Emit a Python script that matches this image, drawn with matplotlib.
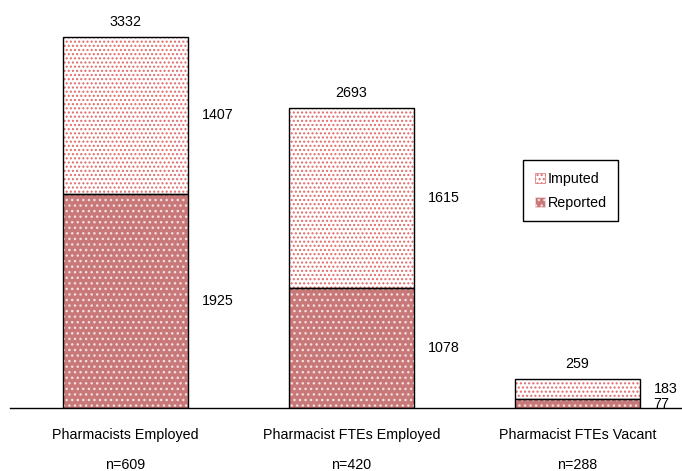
import numpy as np
import matplotlib.pyplot as plt
from matplotlib.patches import Patch

plt.rcParams["font.family"] = ["Liberation Sans", "DejaVu Sans"]
plt.rcParams["hatch.linewidth"] = 1.0

# ── Data ──────────────────────────────────────────────────────────────────────
CATEGORIES = ["Pharmacists Employed", "Pharmacist FTEs Employed", "Pharmacist FTEs Vacant"]
N_LABELS   = ["n=609", "n=420", "n=288"]
REPORTED   = [1925, 1078, 77]
IMPUTED    = [1407, 1615, 183]
TOTALS     = [3332, 2693, 259]

REP_COLOR  = "#c87878"
DOT_RED    = "#e06a6a"
FS = 10.3

fig = plt.figure(figsize=(6.82, 4.71), dpi=100)
ax = fig.add_axes([10 / 682, 63 / 471, 672 / 682, 408 / 471])

x = np.arange(len(CATEGORIES))
width = 0.553
rep = np.array(REPORTED)
imp = np.array(IMPUTED)

# reported: pink fill with white dots
ax.bar(x, rep, width, color=REP_COLOR, edgecolor="#f4dede", hatch="...", linewidth=0)
# imputed: white fill with red dots
ax.bar(x, imp, width, bottom=rep, color="white", edgecolor=DOT_RED, hatch="....", linewidth=0)
# black outlines
ax.bar(x, rep, width, fill=False, edgecolor="black", linewidth=1.0)
ax.bar(x, imp, width, bottom=rep, fill=False, edgecolor="black", linewidth=1.0)

# value labels
for i in range(len(x)):
    ax.annotate(f"{TOTALS[i]}", (x[i], TOTALS[i]), xytext=(0, 6),
                textcoords="offset points", ha="center", va="bottom", fontsize=FS)
    ax.text(x[i] + width / 2 + 0.06, rep[i] / 2, f"{REPORTED[i]}",
            ha="left", va="center", fontsize=FS)
    ax.text(x[i] + width / 2 + 0.06, rep[i] + imp[i] / 2, f"{IMPUTED[i]}",
            ha="left", va="center", fontsize=FS)
    ax.text(x[i], -0.066, CATEGORIES[i], transform=ax.get_xaxis_transform(),
            ha="center", va="center", fontsize=FS)
    ax.text(x[i], -0.14, N_LABELS[i], transform=ax.get_xaxis_transform(),
            ha="center", va="center", fontsize=FS)

ax.set_xlim(-0.511, 2.462)
ax.set_ylim(0, 3665)
for s in ["top", "right", "left"]:
    ax.spines[s].set_visible(False)
ax.spines["bottom"].set_linewidth(1.0)
ax.set_xticks([])
ax.set_yticks([])

handles = [
    Patch(facecolor="white", edgecolor=DOT_RED, hatch="....", linewidth=0.5, label="Imputed"),
    Patch(facecolor=REP_COLOR, edgecolor="#f4dede", hatch="...", linewidth=0.5, label="Reported"),
]
leg = fig.legend(handles=handles, loc="upper left", bbox_to_anchor=(516 / 682, 1 - 153 / 471),
                 fontsize=FS, fancybox=False, edgecolor="black", framealpha=1,
                 handlelength=0.7, handleheight=0.7, handletextpad=0.2,
                 borderpad=0.8, labelspacing=0.7)
leg.get_frame().set_linewidth(1.0)

plt.savefig("out.png", dpi=100)
